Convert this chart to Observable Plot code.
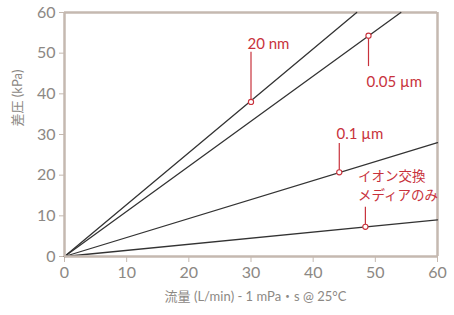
<!DOCTYPE html>
<html><head><meta charset="utf-8">
<script src="https://cdn.jsdelivr.net/npm/d3@7"></script>
<script src="https://cdn.jsdelivr.net/npm/@observablehq/plot@0.6"></script>
<style>
html,body{margin:0;padding:0;background:#fff;}
</style>
</head><body>
<div id="chart"></div>
<script>
// data
const seriesNames = ["20 nm", "0.05 µm", "0.1 µm", "イオン交換\nメディアのみ"];
const startX = [0, 0, 0, 0];
const startY = [0, 0, 0, 0];
const endX = [47, 54.1, 60, 60];
const endY = [60, 60, 28, 9];
const markX = [30, 48.9, 44.2, 48.4];
const markY = [38, 54.3, 20.7, 7.3];
const leaderY = [50.2, 46.7, 27.8, 12.1];
const xTicks = [0, 10, 20, 30, 40, 50, 60];
const yTicks = [0, 10, 20, 30, 40, 50, 60];
const xTitle = "流量 (L/min) - 1 mPa・s @ 25°C";
const yTitle = "差圧 (kPa)";

const lineData = seriesNames.flatMap((s, i) => [
  {s, x: startX[i], y: startY[i]},
  {s, x: endX[i], y: endY[i]}
]);
const ann = seriesNames.map((s, i) => ({s, x: markX[i], y: markY[i], ly: leaderY[i]}));

const axisColor = "#c5b9b0";
const textGray = "#8c8884";
const red = "#c8323c";
const font = "Lato, 'Noto Sans CJK JP', sans-serif";
// per-annotation text offsets (px)
const offs = [
  {dx: -3.5, dy: -10.5, fs: 15},
  {dx: -2, dy: 14, fs: 15},
  {dx: -2.7, dy: -11, fs: 15},
  {dx: -7.5, dy: -22.5, fs: 13.5}
];

const textMarks = ann.map((a, i) => Plot.text([a], {
  x: "x", y: "ly", text: "s", textAnchor: "start", lineAnchor: "middle",
  dx: offs[i].dx, dy: offs[i].dy, fill: red, fontSize: offs[i].fs, lineHeight: 1.4
}));

const chart = Plot.plot({
  width: 454, height: 315,
  marginLeft: 64, marginRight: 17, marginTop: 12, marginBottom: 59,
  style: {fontFamily: font, background: "#fff", overflow: "visible"},
  x: {domain: [0, 60]},
  y: {domain: [0, 60]},
  marks: [
    Plot.axisX({ticks: xTicks, tickSize: 6, tickPadding: 4, fontSize: 16, stroke: axisColor, fill: textGray, label: null, tickFormat: d => String(d)}),
    Plot.axisY({ticks: yTicks, tickSize: 5, tickPadding: 4, fontSize: 16, stroke: axisColor, fill: textGray, label: null, tickFormat: d => String(d)}),
    Plot.ruleX([60], {stroke: axisColor, strokeWidth: 2.5}),
    Plot.ruleY([60], {stroke: axisColor, strokeWidth: 2.5}),
    Plot.line(lineData, {x: "x", y: "y", z: "s", stroke: "#333", strokeWidth: 1.3}),
    Plot.ruleX([0], {stroke: axisColor, strokeWidth: 2.5}),
    Plot.ruleY([0], {stroke: axisColor, strokeWidth: 2.5}),
    Plot.ruleX(ann, {x: "x", y1: "y", y2: "ly", stroke: red, strokeWidth: 1.2}),
    Plot.dot(ann, {x: "x", y: "y", r: 2.6, stroke: red, fill: "#fff", strokeWidth: 1.1}),
    ...textMarks,
    Plot.text([xTitle], {frameAnchor: "bottom", dy: 44, dx: 4.5, fill: textGray, fontSize: 13}),
    Plot.text([yTitle], {frameAnchor: "left", rotate: -90, dx: -47, dy: -8, fill: textGray, fontSize: 13})
  ]
});
document.getElementById("chart").append(chart);
</script>
</body></html>
